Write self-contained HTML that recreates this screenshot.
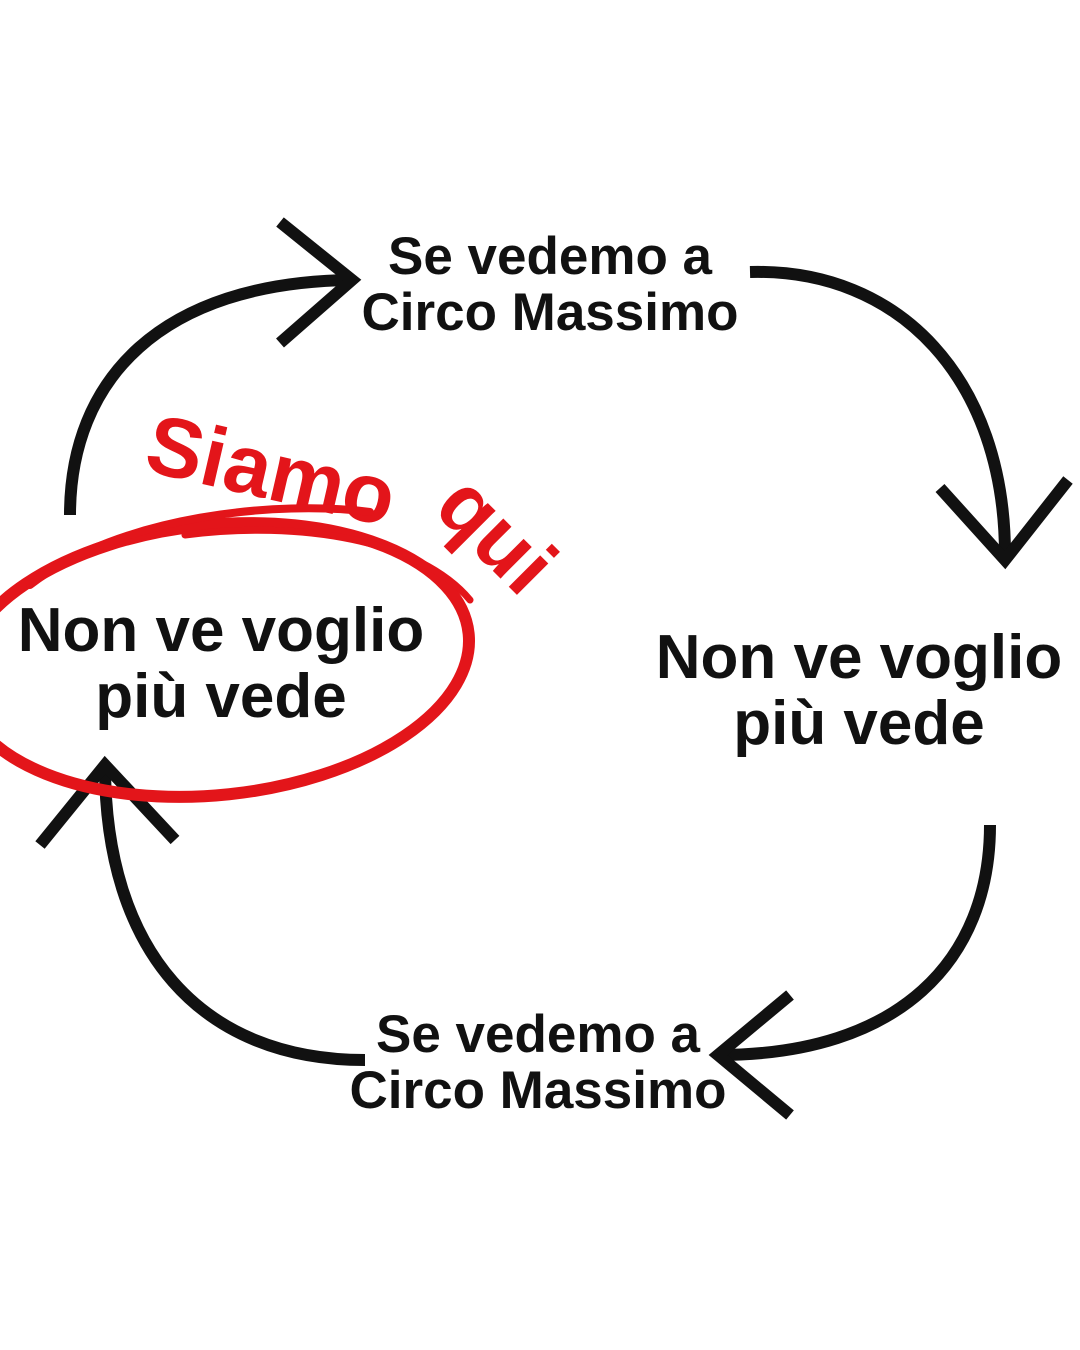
<!DOCTYPE html>
<html><head><meta charset="utf-8"><style>
html,body{margin:0;padding:0;background:#fff;}
svg{display:block}
text{font-family:"Liberation Sans",Arial,sans-serif;font-weight:bold;}
</style></head><body>
<svg width="1080" height="1350" viewBox="0 0 1080 1350" xmlns="http://www.w3.org/2000/svg">
<rect width="1080" height="1350" fill="#fff"/>
<g fill="none" stroke="#111" stroke-width="12" stroke-linecap="butt" stroke-linejoin="miter">
  <path d="M70 515 C70 380 160 282 352 280"/>
  <path d="M280 222 L352 280 L280 343"/>
  <path d="M750 272 C900 268 1005 380 1005 555"/>
  <path d="M940 488 L1005 560 L1068 480"/>
  <path d="M990 825 C990 960 900 1055 718 1055"/>
  <path d="M790 995 L718 1055 L790 1115"/>
  <path d="M365 1060 C200 1060 105 950 105 765"/>
  <path d="M40 845 L105 765 L175 840"/>
</g>
<g fill="#111" text-anchor="middle">
  <text x="550" y="274" font-size="53">Se vedemo a</text>
  <text x="550" y="330" font-size="53">Circo Massimo</text>
  <text x="221" y="651" font-size="62">Non ve voglio</text>
  <text x="221" y="717" font-size="62">più vede</text>
  <text x="859" y="678" font-size="62">Non ve voglio</text>
  <text x="859" y="744" font-size="62">più vede</text>
  <text x="538" y="1052" font-size="53">Se vedemo a</text>
  <text x="538" y="1108" font-size="53">Circo Massimo</text>
</g>
<g fill="#e3151a">
  <text font-size="84" transform="translate(142 470) rotate(13)">Siamo</text>
  <text font-size="84" transform="translate(432 510) rotate(45)">qui</text>
</g>
<g fill="none" stroke="#e3151a" stroke-linecap="round">
  <ellipse cx="215" cy="660" rx="255" ry="135" transform="rotate(-6 215 660)" stroke-width="12"/>
  <path d="M30 585 C120 515 280 500 370 512" stroke-width="8"/>
  <path d="M185 535 C300 520 420 540 470 600" stroke-width="7"/>
</g>
</svg>
</body></html>
